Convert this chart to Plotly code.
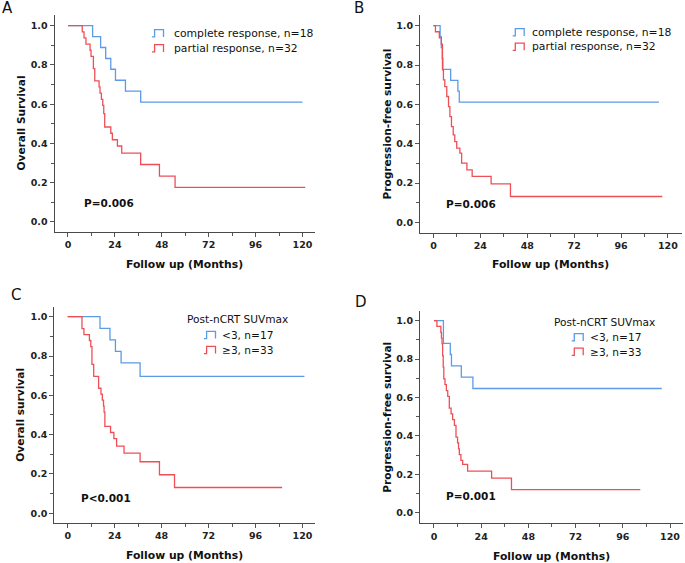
import plotly.graph_objects as go

W, H = 685, 563
BLUE = "#5b9be8"
RED = "#ee4f57"
FONT = "DejaVu Sans"

# ---- data (months, survival proportion) ----
# A: overall survival by response
A_CR_T = [0, 12.6, 16.7, 19.3, 21.9, 24.3, 29.4, 37.2, 120.0]
A_CR_S = [1.0, 0.944, 0.889, 0.833, 0.778, 0.722, 0.667, 0.611, 0.611]
A_PR_T = [0, 7.3, 8.2, 9.2, 11.3, 11.8, 13.0, 13.7, 15.9, 16.4, 17.1, 17.8, 18.3,
          18.8, 21.9, 22.7, 25.3, 27.5, 37.2, 46.8, 54.8, 121.4]
A_PR_S = [1.0, 0.969, 0.938, 0.906, 0.875, 0.844, 0.781, 0.719, 0.688, 0.656, 0.625, 0.594, 0.552,
          0.484, 0.452, 0.419, 0.387, 0.351, 0.293, 0.234, 0.176, 0.176]

# B: progression-free survival by response
B_CR_T = [0, 3.4, 4.0, 4.5, 4.8, 8.8, 12.5, 13.2, 115.4]
B_CR_S = [1.0, 0.944, 0.889, 0.833, 0.778, 0.722, 0.667, 0.611, 0.611]
B_PR_T = [0, 1.0, 3.0, 4.0, 4.6, 5.1, 5.8, 6.8, 7.7, 8.4, 9.2, 10.1, 10.9, 11.9,
          13.5, 14.4, 17.1, 19.8, 29.5, 39.4, 117.1]
B_PR_S = [1.0, 0.969, 0.938, 0.906, 0.775, 0.724, 0.690, 0.640, 0.589, 0.538, 0.487, 0.445, 0.411, 0.378,
          0.352, 0.301, 0.267, 0.234, 0.196, 0.132, 0.132]

# C: overall survival by post-nCRT SUVmax
C_LO_T = [0, 16.5, 21.6, 24.4, 27.3, 37.0, 121.0]
C_LO_S = [1.0, 0.941, 0.882, 0.824, 0.765, 0.696, 0.696]
C_HI_T = [0, 7.3, 8.3, 11.1, 11.8, 12.4, 13.3, 15.8, 17.0, 17.7, 18.3, 18.6, 19.0,
          21.9, 23.6, 25.0, 28.8, 37.0, 46.9, 54.6, 109.6]
C_HI_S = [1.0, 0.939, 0.909, 0.879, 0.848, 0.758, 0.697, 0.636, 0.606, 0.576, 0.545, 0.515, 0.442,
          0.411, 0.380, 0.342, 0.306, 0.262, 0.196, 0.131, 0.131]

# D: progression-free survival by post-nCRT SUVmax
D_LO_T = [0, 4.8, 8.3, 8.9, 13.9, 19.8, 115.8]
D_LO_S = [1.0, 0.882, 0.824, 0.765, 0.706, 0.647, 0.647]
D_HI_T = [0, 1.5, 3.5, 3.8, 4.1, 4.4, 4.7, 5.0, 5.6, 6.3, 7.0, 7.8, 8.7, 9.5, 10.4,
          11.2, 12.0, 12.5, 12.9, 13.7, 14.6, 17.1, 29.3, 39.4, 104.9]
D_HI_S = [1.0, 0.970, 0.939, 0.909, 0.879, 0.818, 0.758, 0.697, 0.667, 0.636, 0.606, 0.545, 0.515, 0.485, 0.455,
          0.394, 0.364, 0.333, 0.303, 0.273, 0.252, 0.217, 0.180, 0.120, 0.120]

X_TICKS = [0, 24, 48, 72, 96, 120]
Y_TICKS = [0.0, 0.2, 0.4, 0.6, 0.8, 1.0]


def px(x):
    return x / W


def py(y):
    return 1 - y / H


# panel layout in pixels: x domain, y domain (top, bottom), axis ranges, texts
PANELS = [
    dict(letter="A", letter_xy=(7.5, 8), xdom=(54.5, 315), ydom=(15, 232),
         xr=(-6.9, 126.4), yr=(-0.051, 1.0545),
         series=[(A_CR_T, A_CR_S, BLUE), (A_PR_T, A_PR_S, RED)],
         ytitle="Overall Survival", ytitle_x=20, xtitle_xy=(184.7, 265),
         p="P=0.006", p_xy=(81.7, 203.3),
         header=None,
         legend=[("complete response, n=18", BLUE, 33.3), ("partial response, n=32", RED, 48.3)],
         icon_x=152, text_x=172.3, lsize=10.8),
    dict(letter="B", letter_xy=(358.5, 8), xdom=(420, 682), ydom=(15, 232.7),
         xr=(-6.9, 127.2), yr=(-0.052, 1.054),
         series=[(B_CR_T, B_CR_S, BLUE), (B_PR_T, B_PR_S, RED)],
         ytitle="Progression-free survival", ytitle_x=386.7, xtitle_xy=(550.8, 265),
         p="P=0.006", p_xy=(444, 204.3),
         header=None,
         legend=[("complete response, n=18", BLUE, 32.3), ("partial response, n=32", RED, 46.7)],
         icon_x=512.7, text_x=530, lsize=10.8),
    dict(letter="C", letter_xy=(16, 294.5), xdom=(54.3, 315), ydom=(306.7, 522.7),
         xr=(-6.85, 126.4), yr=(-0.048, 1.051),
         series=[(C_LO_T, C_LO_S, BLUE), (C_HI_T, C_HI_S, RED)],
         ytitle="Overall survival", ytitle_x=20, xtitle_xy=(184.7, 555),
         p="P<0.001", p_xy=(79.3, 498.3),
         header=("Post-nCRT SUVmax", 185, 319.3),
         legend=[("<3, n=17", BLUE, 335), ("≥3, n=33", RED, 350)],
         icon_x=204, text_x=220, lsize=10.6),
    dict(letter="D", letter_xy=(361, 301.5), xdom=(420, 683), ydom=(310.7, 523.3),
         xr=(-7.1, 126.6), yr=(-0.055, 1.052),
         series=[(D_LO_T, D_LO_S, BLUE), (D_HI_T, D_HI_S, RED)],
         ytitle="Progression-free survival", ytitle_x=386.7, xtitle_xy=(551.7, 556),
         p="P=0.001", p_xy=(444, 496),
         header=("Post-nCRT SUVmax", 552.3, 321.7),
         legend=[("<3, n=17", BLUE, 337.3), ("≥3, n=33", RED, 351.7)],
         icon_x=571.7, text_x=588.3, lsize=10.6),
]


def axis_style():
    return dict(
        showline=True, linecolor="#4a4a4a", linewidth=1,
        ticks="outside", ticklen=4, tickwidth=1, tickcolor="#555",
        tickfont=dict(family=FONT, size=9.5, color="#222", weight="bold"),
        showgrid=False, zeroline=False, fixedrange=True,
    )


def icon_path(x0, yc):
    # little step glyph used by the legend
    pts = [(x0, yc + 3.6), (x0 + 2.6, yc + 3.6), (x0 + 2.6, yc - 3.6),
           (x0 + 11.5, yc - 3.6), (x0 + 11.5, yc + 3.6)]
    return "M " + " L ".join(f"{px(x):.5f},{py(y):.5f}" for x, y in pts)


fig = go.Figure()
annotations = []
shapes = []

for i, p in enumerate(PANELS, start=1):
    xa, ya = f"x{i}", f"y{i}"
    for t, s, color in p["series"]:
        fig.add_trace(go.Scatter(
            x=t, y=s, mode="lines", xaxis=xa, yaxis=ya,
            line=dict(color=color, width=1.3, shape="hv"),
            hoverinfo="skip", showlegend=False,
        ))

    xax = axis_style()
    xax.update(domain=[px(p["xdom"][0]), px(p["xdom"][1])], range=list(p["xr"]),
               anchor=ya, tickvals=X_TICKS,
               minor=dict(ticks="outside", ticklen=3, tickcolor="#555", tick0=12, dtick=24))
    yax = axis_style()
    yax.update(domain=[py(p["ydom"][1]), py(p["ydom"][0])], range=list(p["yr"]),
               anchor=xa, tickvals=Y_TICKS, tickformat=".1f",
               minor=dict(ticks="outside", ticklen=3, tickcolor="#555", tick0=0.1, dtick=0.2))
    fig.update_layout({f"xaxis{i}": xax, f"yaxis{i}": yax})

    ymid = (p["ydom"][0] + p["ydom"][1]) / 2
    annotations += [
        dict(text=p["letter"], x=px(p["letter_xy"][0]), y=py(p["letter_xy"][1]),
             font=dict(family=FONT, size=15, color="#111")),
        dict(text=p["ytitle"], x=px(p["ytitle_x"]), y=py(ymid), textangle=-90,
             font=dict(family=FONT, size=10.6, color="#111", weight="bold")),
        dict(text="Follow up (Months)", x=px(p["xtitle_xy"][0]), y=py(p["xtitle_xy"][1]),
             font=dict(family=FONT, size=10.8, color="#111", weight="bold")),
        dict(text=p["p"], x=px(p["p_xy"][0]), y=py(p["p_xy"][1]), xanchor="left",
             font=dict(family=FONT, size=10.5, color="#111", weight="bold")),
    ]
    if p["header"]:
        txt, hx, hy = p["header"]
        annotations.append(dict(text=txt, x=px(hx), y=py(hy), xanchor="left",
                                font=dict(family=FONT, size=p["lsize"], color="#111")))
    for label, color, yc in p["legend"]:
        annotations.append(dict(text=label, x=px(p["text_x"]), y=py(yc), xanchor="left",
                                font=dict(family=FONT, size=p["lsize"], color="#111")))
        shapes.append(dict(type="path", path=icon_path(p["icon_x"], yc), xref="paper", yref="paper",
                           line=dict(color=color, width=1.3)))

for a in annotations:
    a.update(xref="paper", yref="paper", showarrow=False)
    a.setdefault("xanchor", "center")
    a.setdefault("yanchor", "middle")

fig.update_layout(
    width=W, height=H,
    margin=dict(l=0, r=0, t=0, b=0),
    paper_bgcolor="white", plot_bgcolor="white",
    showlegend=False,
    annotations=annotations,
    shapes=shapes,
)

# the page body has a default 8px margin; drop it so the figure fills the window
fig.write_html("out.html", config={"displayModeBar": False},
               post_script="document.body.style.margin='0';")
